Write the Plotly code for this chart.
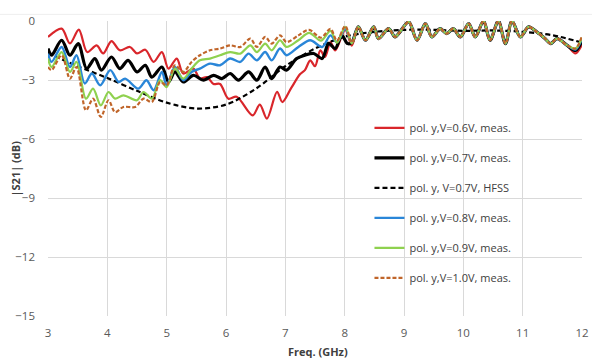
import plotly.graph_objects as go

# ---------------- data ----------------
# shared ripple region (all measured curves overlap here)
common_x = [8.23, 8.35, 8.49, 8.57, 8.74, 8.85, 8.92, 9.08, 9.22, 9.36, 9.47, 9.61, 9.72,
            9.83, 9.95, 10.09, 10.2, 10.34, 10.45, 10.59, 10.71, 10.82, 10.96, 11.1,
            11.24, 11.38, 11.47, 11.58, 11.75]
common_y = [-0.3, -0.98, -0.3, -0.9, -0.39, -0.81, -0.6, -0.05, -0.98, -0.13, -0.81, -0.39, -0.64,
            -0.39, -0.81, -0.13, -0.81, 0.0, -0.98, 0.0, -1.15, 0.0, -0.81, -0.3,
            -0.56, -0.9, -1.15, -0.9, -1.24]

red_x = [3.0, 3.23, 3.37, 3.52, 3.66, 3.82, 3.93, 4.07, 4.21, 4.38, 4.5, 4.64, 4.78, 4.92,
         5.03, 5.17, 5.28, 5.45, 5.56, 5.68, 5.79, 5.9, 6.04, 6.18, 6.45, 6.57, 6.69, 6.86,
         6.95, 7.1, 7.25, 7.33, 7.42, 7.5, 7.59, 7.67, 7.76, 7.84, 8.01, 8.12]
red_y = [-0.81, -0.39, -1.14, -0.44, -1.58, -1.24, -1.65, -1.02, -1.49, -1.32, -1.65, -1.46, -2.08, -1.58,
         -2.42, -1.91, -2.67, -2.42, -2.93, -2.85, -3.2, -3.2, -3.95, -3.85, -4.8, -4.25, -4.96, -3.6,
         -4.12, -3.4, -2.7, -2.5, -2.0, -2.3, -1.49, -1.83, -1.07, -1.5, -0.45, -1.25]
red_end_x = [11.89, 12.0]
red_end_y = [-1.65, -1.2]

black_x = [3.0, 3.06, 3.23, 3.37, 3.51, 3.65, 3.79, 3.9, 4.07, 4.21, 4.35, 4.5, 4.64, 4.75,
           4.92, 5.03, 5.14, 5.28, 5.45, 5.62, 5.79, 5.93, 6.07, 6.21, 6.38, 6.52, 6.66, 6.77,
           6.91, 7.02, 7.19, 7.33, 7.48, 7.62, 7.73, 7.84, 7.95, 8.05, 8.12]
black_y = [-1.4, -1.74, -0.98, -1.74, -1.15, -2.42, -1.91, -2.5, -1.83, -2.42, -2.0, -2.59, -2.25, -2.85,
           -2.34, -3.1, -2.59, -3.1, -2.76, -3.01, -2.76, -2.93, -2.67, -3.01, -2.59, -3.01, -2.34, -2.93,
           -2.34, -2.5, -1.91, -1.74, -1.65, -1.91, -1.14, -1.4, -0.73, -1.15, -1.1]
black_end_x = [11.89, 12.0]
black_end_y = [-1.5, -1.0]

hfss_x = [3.0, 3.2, 3.5, 4.0, 4.5, 5.0, 5.5, 6.0, 6.5, 7.0, 7.5, 8.0, 8.5, 9.0, 9.5,
          10.0, 10.5, 11.0, 11.5, 12.0]
hfss_y = [-1.6, -1.9, -2.3, -2.9, -3.55, -4.15, -4.45, -4.25, -3.45, -2.3, -1.4, -0.8, -0.55, -0.45, -0.45,
          -0.5, -0.48, -0.55, -0.72, -1.1]

blue_x = [3.0, 3.06, 3.23, 3.37, 3.48, 3.62, 3.74, 3.88, 4.05, 4.19, 4.3, 4.52, 4.66, 4.78,
          4.92, 5.0, 5.14, 5.28, 5.42, 5.56, 5.73, 5.9, 6.07, 6.24, 6.38, 6.52, 6.66, 6.77,
          6.91, 7.02, 7.22, 7.42, 7.62, 7.76, 7.87, 8.01, 8.12]
blue_y = [-1.66, -2.08, -1.32, -2.34, -1.74, -3.18, -2.67, -3.27, -2.5, -3.1, -2.93, -3.44, -3.01, -3.52,
          -2.59, -3.27, -2.34, -3.01, -2.59, -2.42, -2.17, -2.25, -1.91, -2.08, -1.66, -2.0, -1.58, -2.0,
          -1.4, -1.74, -1.32, -0.98, -1.32, -0.73, -1.07, -0.4, -1.1]
blue_end_x = [11.89, 12.0]
blue_end_y = [-1.45, -0.9]

green_x = [3.0, 3.06, 3.23, 3.37, 3.48, 3.64, 3.76, 3.89, 4.02, 4.13, 4.27, 4.5, 4.61, 4.75,
           4.89, 5.0, 5.14, 5.28, 5.42, 5.56, 5.73, 5.9, 6.07, 6.24, 6.41, 6.52, 6.66, 6.77,
           6.91, 7.02, 7.22, 7.4, 7.6, 7.76, 7.87, 8.01, 8.12]
green_y = [-1.91, -2.34, -1.58, -2.59, -2.08, -3.95, -3.44, -4.29, -3.61, -3.95, -3.78, -4.03, -3.61, -3.95,
           -3.01, -3.36, -2.42, -2.93, -2.42, -2.0, -1.91, -1.74, -1.58, -1.66, -1.24, -1.58, -1.15, -1.49,
           -0.98, -1.32, -0.98, -0.6, -1.0, -0.5, -1.1, -0.3, -1.14]
green_end_x = [11.89, 12.0]
green_end_y = [-1.4, -0.85]

brown_x = [3.0, 3.06, 3.23, 3.37, 3.48, 3.64, 3.76, 3.89, 4.02, 4.13, 4.27, 4.47, 4.61, 4.75,
           4.89, 5.0, 5.14, 5.28, 5.42, 5.56, 5.73, 5.9, 6.07, 6.24, 6.41, 6.52, 6.66, 6.77,
           6.91, 7.02, 7.22, 7.4, 7.6, 7.76, 7.87, 8.01, 8.12]
brown_y = [-2.34, -2.5, -1.74, -2.93, -2.34, -4.54, -3.95, -4.88, -4.03, -4.63, -4.37, -4.37, -3.95, -4.12,
           -3.1, -3.27, -2.25, -2.59, -2.08, -1.74, -1.49, -1.4, -1.24, -1.32, -0.9, -1.32, -0.81, -1.15,
           -0.73, -1.07, -0.73, -0.45, -0.85, -0.4, -1.0, -0.25, -1.1]
brown_end_x = [11.89, 12.0]
brown_end_y = [-1.4, -0.75]

names = ["pol. y,V=0.6V, meas.", "pol. y,V=0.7V, meas.", "pol. y, V=0.7V, HFSS",
         "pol. y,V=0.8V, meas.", "pol. y,V=0.9V, meas.", "pol. y,V=1.0V, meas."]

x_ticks = [3, 4, 5, 6, 7, 8, 9, 10, 11, 12]
y_ticks = [0, -3, -6, -9, -12, -15]

# ---------------- figure ----------------
series = [
    (red_x + common_x + red_end_x, red_y + common_y + red_end_y, "#d9262b", 2.2, "solid"),
    (black_x + common_x + black_end_x, black_y + common_y + black_end_y, "#000000", 3.2, "solid"),
    (hfss_x, hfss_y, "#000000", 2.2, "dash"),
    (blue_x + common_x + blue_end_x, blue_y + common_y + blue_end_y, "#2a86d8", 2.4, "solid"),
    (green_x + common_x + green_end_x, green_y + common_y + green_end_y, "#8fd14f", 2.2, "solid"),
    (brown_x + common_x + brown_end_x, brown_y + common_y + brown_end_y, "#c0652a", 2.2, "dot"),
]

fig = go.Figure()
for i, (xs, ys, col, w, dash) in enumerate(series):
    fig.add_trace(go.Scatter(
        x=xs, y=ys, mode="lines", name=names[i], legendgroup=str(i),
        line=dict(color=col, width=w, dash=("4px,2px" if dash == "dot" else ("5px,3px" if dash == "dash" else None)),
                  shape="spline", smoothing=0.9),
    ))

axis_font = dict(family="Open Sans", size=11.5, color="#595959")

fig.update_layout(
    width=592, height=358,
    margin=dict(l=48, r=10, t=21, b=42),
    paper_bgcolor="white", plot_bgcolor="white",
    showlegend=True,
    legend=dict(x=0.602, y=0.687, xanchor="left", yanchor="top",
                bgcolor="rgba(0,0,0,0)", borderwidth=0,
                font=dict(family="Open Sans", size=11, color="#404040"),
                tracegroupgap=11, itemwidth=30),
    xaxis=dict(range=[3, 12], tickmode="array", tickvals=x_ticks, automargin=False,
               showgrid=True, gridcolor="#d9d9d9", gridwidth=1,
               zeroline=False, showline=False, tickfont=axis_font,
               ticks="", ticklabelstandoff=8),
    yaxis=dict(range=[-15, 0], tickmode="array", tickvals=y_ticks, automargin=False,
               showgrid=True, gridcolor="#d9d9d9", gridwidth=1,
               zeroline=False, showline=False, tickfont=axis_font,
               ticks="", ticklabelstandoff=12),
    shapes=[
        dict(type="rect", xref="paper", yref="paper", x0=0.556, x1=0.927, y0=0.077, y1=0.687,
             fillcolor="white", line=dict(width=0), layer="between"),
        dict(type="line", xref="paper", yref="paper", x0=-0.09, x1=1.019, y0=1.0225, y1=1.0225,
             line=dict(color="#eeeeee", width=1), layer="below"),
    ],
    annotations=[
        dict(text="<b>Freq. (GHz)</b>", xref="paper", yref="paper", x=0.505, y=0, yshift=-35,
             showarrow=False, xanchor="center", yanchor="middle",
             font=dict(family="Open Sans", size=11, color="#404040")),
        dict(text="<b>|S21| (dB)</b>", xref="paper", yref="paper", x=0, xshift=-33, y=0.5,
             showarrow=False, textangle=-90, xanchor="center", yanchor="middle",
             font=dict(family="Open Sans", size=11, color="#404040")),
    ],
)

fig.write_html("out.html")
